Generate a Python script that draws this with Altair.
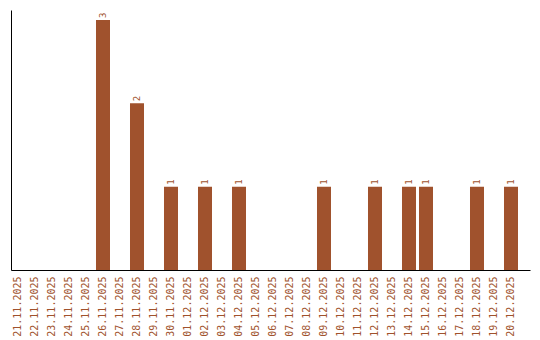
import altair as alt
import pandas as pd

dates = ["21.11.2025", "22.11.2025", "23.11.2025", "24.11.2025", "25.11.2025",
         "26.11.2025", "27.11.2025", "28.11.2025", "29.11.2025", "30.11.2025",
         "01.12.2025", "02.12.2025", "03.12.2025", "04.12.2025", "05.12.2025",
         "06.12.2025", "07.12.2025", "08.12.2025", "09.12.2025", "10.12.2025",
         "11.12.2025", "12.12.2025", "13.12.2025", "14.12.2025", "15.12.2025",
         "16.12.2025", "17.12.2025", "18.12.2025", "19.12.2025", "20.12.2025"]
counts = [0, 0, 0, 0, 0,
          3, 0, 2, 0, 1,
          0, 1, 0, 1, 0,
          0, 0, 0, 1, 0,
          0, 1, 0, 1, 1,
          0, 0, 1, 0, 1]

df = pd.DataFrame({"date": dates, "count": counts})

COLOR = "#A0522D"
FONT = "DejaVu Sans Mono"

x = alt.X("date:N", sort=dates, title=None,
          scale=alt.Scale(paddingInner=0.1765, paddingOuter=0.353, align=0),
          axis=alt.Axis(labelAngle=-90, ticks=False, domainColor="black",
                        domainWidth=1, labelColor=COLOR, labelFont=FONT,
                        labelFontSize=10, labelPadding=6, grid=False))
y = alt.Y("count:Q", title=None,
          scale=alt.Scale(domain=[0, 3.12], nice=False, zero=True),
          axis=alt.Axis(labels=False, ticks=False, grid=False,
                        domainColor="black", domainWidth=1))

bars = alt.Chart(df).mark_bar(color=COLOR).encode(x=x, y=y)

text = alt.Chart(df).transform_filter("datum.count > 0").mark_text(
    angle=270, align="left", baseline="middle", dx=2,
    font=FONT, fontSize=9, color=COLOR
).encode(x=x, y=y, text="count:Q")

chart = (bars + text).properties(
    width=519, height=260,
    background="white",
    autosize=alt.AutoSizeParams(type="none"),
    padding={"left": 11, "top": 10, "right": 10, "bottom": 70},
).configure_view(strokeWidth=0, stroke=None)

chart.save("out.html", embed_options={"renderer": "svg", "actions": False})
